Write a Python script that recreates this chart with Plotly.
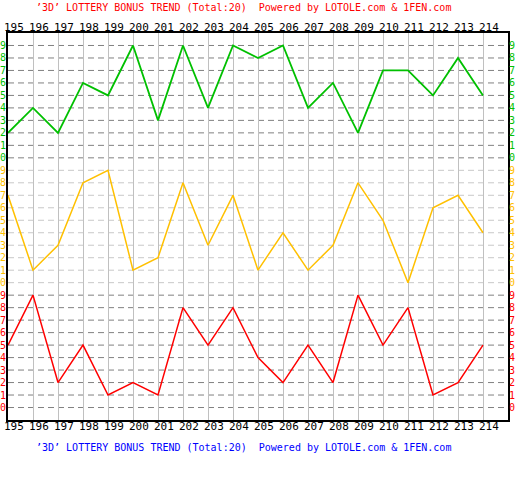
import plotly.graph_objects as go

# draw numbers (issue 195 .. 214)
periods = [195, 196, 197, 198, 199, 200, 201, 202, 203, 204,
           205, 206, 207, 208, 209, 210, 211, 212, 213, 214]
digit_1 = [2, 4, 2, 6, 5, 9, 3, 9, 4, 9, 8, 9, 4, 6, 2, 7, 7, 5, 8, 5]  # green, top
digit_2 = [7, 1, 3, 8, 9, 1, 2, 8, 3, 7, 1, 4, 1, 3, 8, 5, 0, 6, 7, 4]  # orange, middle
digit_3 = [5, 9, 2, 5, 1, 2, 1, 8, 5, 8, 4, 2, 5, 2, 9, 5, 8, 1, 2, 5]  # red, bottom
levels = [0, 1, 2, 3, 4, 5, 6, 7, 8, 9]
title = "\u20193D\u2019 LOTTERY BONUS TREND (Total:20)  Powered by LOTOLE.com & 1FEN.com"

MONO = "DejaVu Sans Mono"
GREEN = "#00c000"
ORANGE = "#ffc000"
RED = "#ff0000"

# each band is 10 units tall, stacked on one y axis
bands = [
    (digit_1, 20, GREEN, "#808080", 1.8),
    (digit_2, 10, ORANGE, "#c8c8c8", 1.5),
    (digit_3, 0, RED, "#808080", 1.5),
]

fig = go.Figure()
shapes = []
annotations = []

for vals, off, col, gridcol, lw in bands:
    fig.add_trace(go.Scatter(
        x=periods, y=[v + off for v in vals],
        mode="lines", line=dict(color=col, width=lw),
        hoverinfo="skip", showlegend=False
    ))
    for lv in levels:
        shapes.append(dict(
            type="line", xref="paper", yref="y", x0=0, x1=1, y0=lv + off, y1=lv + off,
            line=dict(color=gridcol, width=1, dash="6px,4px"), layer="below"
        ))
        for px, sh in ((0, -5), (1, 4)):
            annotations.append(dict(
                xref="paper", yref="y", x=px, y=lv + off, text=str(lv),
                showarrow=False, xanchor="center", yanchor="middle", xshift=sh,
                borderpad=0, font=dict(family=MONO, size=10, color=col)
            ))

# column labels top and bottom
for p in periods:
    for py, sh in ((1, 6), (0, -6)):
        annotations.append(dict(
            xref="x", yref="paper", x=p + 0.24, y=py, text=str(p),
            showarrow=False, xanchor="center", yanchor="middle", yshift=sh,
            font=dict(family=MONO, size=11, color="black")
        ))

annotations.append(dict(
    xref="paper", yref="paper", x=0.47, y=1, yshift=26, text=title,
    showarrow=False, xanchor="center", yanchor="middle",
    font=dict(family=MONO, size=10, color="#ff0000")
))
annotations.append(dict(
    xref="paper", yref="paper", x=0.47, y=0, yshift=-27, text=title,
    showarrow=False, xanchor="center", yanchor="middle",
    font=dict(family=MONO, size=10, color="#0000ff")
))

fig.update_layout(
    width=518, height=500,
    margin=dict(l=8, r=10, t=33, b=80),
    paper_bgcolor="white", plot_bgcolor="white",
    shapes=shapes, annotations=annotations,
    xaxis=dict(range=[195, 215], dtick=1, tick0=195, showticklabels=False,
               showgrid=True, gridcolor="#c0c0c0", gridwidth=1, zeroline=False,
               showline=True, linecolor="black", linewidth=2, mirror=True, ticks=""),
    yaxis=dict(range=[-1, 30], showticklabels=False, showgrid=False, zeroline=False,
               showline=True, linecolor="black", linewidth=2, mirror=True, ticks=""),
)

# the page's default 8px body margin would push the chart off the window
fig.write_html("out.html", config={"displayModeBar": False},
               post_script="document.body.style.margin = '0';")
